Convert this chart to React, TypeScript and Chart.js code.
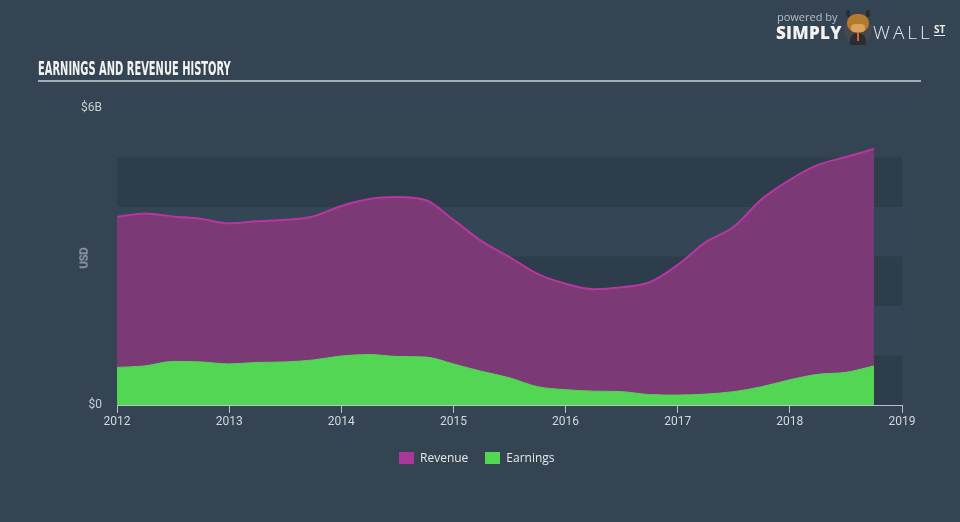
import React, { useEffect, useRef } from "react";
import { Chart, registerables } from "chart.js";
Chart.register(...registerables);

// Quarter positions (fractional years)
const quarters = [
  2012, 2012.25, 2012.5, 2012.75, 2013, 2013.25, 2013.5, 2013.75,
  2014, 2014.25, 2014.5, 2014.75, 2015, 2015.25, 2015.5, 2015.75,
  2016, 2016.25, 2016.5, 2016.75, 2017, 2017.25, 2017.5, 2017.75,
  2018, 2018.25, 2018.5, 2018.75,
];
// USD billions
const revenue = [
  3.8, 3.87, 3.81, 3.76, 3.67, 3.71, 3.74, 3.81,
  4.02, 4.16, 4.2, 4.14, 3.74, 3.31, 2.99, 2.65,
  2.45, 2.34, 2.38, 2.48, 2.83, 3.29, 3.6, 4.16,
  4.55, 4.85, 5.01, 5.17,
];
const earnings = [
  0.76, 0.79, 0.88, 0.87, 0.83, 0.86, 0.87, 0.91,
  0.99, 1.02, 0.98, 0.97, 0.83, 0.68, 0.55, 0.37,
  0.31, 0.28, 0.27, 0.21, 0.2, 0.22, 0.27, 0.37,
  0.51, 0.62, 0.66, 0.79,
];
const xTickYears = [2012, 2013, 2014, 2015, 2016, 2017, 2018, 2019];
const yTickValues = [0, 6];
const bandRanges = [
  [0, 1],
  [2, 3],
  [4, 5],
];
const legendItems = [
  { label: "Revenue", color: "#a8379a" },
  { label: "Earnings", color: "#52d654" },
];

const BG = "#344453";

const bandsPlugin = {
  id: "bands",
  beforeDatasetsDraw(chart: any) {
    const { ctx, chartArea, scales } = chart;
    const y = scales.y;
    ctx.save();
    ctx.fillStyle = "#344555";
    const top = y.getPixelForValue(5);
    ctx.fillRect(chartArea.left, top, chartArea.right - chartArea.left, y.getPixelForValue(0) - top);
    ctx.fillStyle = "#2e3d4b";
    for (const [a, b] of bandRanges) {
      const y1 = y.getPixelForValue(b);
      const y2 = y.getPixelForValue(a);
      ctx.fillRect(chartArea.left, y1, chartArea.right - chartArea.left, y2 - y1);
    }
    ctx.restore();
  },
};

export default function App() {
  const ref = useRef<HTMLCanvasElement | null>(null);

  useEffect(() => {
    if (!ref.current) return;
    const chart = new Chart(ref.current, {
      type: "line",
      data: {
        datasets: [
          {
            label: "Earnings",
            data: quarters.map((q, i) => ({ x: q, y: earnings[i] })),
            borderColor: "#52d654",
            backgroundColor: "#52d654",
            borderWidth: 1,
            fill: "origin",
            pointRadius: 0,
            tension: 0.4,
            cubicInterpolationMode: "monotone",
            order: 0,
          },
          {
            label: "Revenue",
            data: quarters.map((q, i) => ({ x: q, y: revenue[i] })),
            borderColor: "#b8369f",
            backgroundColor: "#7b3a76",
            borderWidth: 2,
            fill: "origin",
            pointRadius: 0,
            tension: 0.4,
            cubicInterpolationMode: "monotone",
            order: 1,
          },
        ],
      },
      options: {
        responsive: false,
        animation: false,
        layout: { padding: { top: 108, right: 58, left: 0, bottom: 0 } },
        plugins: { legend: { display: false }, tooltip: { enabled: false } },
        scales: {
          x: {
            type: "linear",
            min: 2012,
            max: 2019,
            afterBuildTicks: (s: any) => {
              s.ticks = xTickYears.map((v) => ({ value: v }));
            },
            afterFit: (s: any) => {
              s.height = 117;
            },
            ticks: {
              color: "#d4d8dc",
              font: { family: "Roboto", size: 12 },
              padding: 2,
              maxRotation: 0,
              callback: (v: any) => String(v),
            },
            grid: {
              drawOnChartArea: false,
              drawTicks: true,
              tickLength: 8,
              color: "#b9c0c7",
            },
            border: { display: true, color: "#b9c0c7", width: 1 },
          },
          y: {
            min: 0,
            max: 6,
            afterBuildTicks: (s: any) => {
              s.ticks = yTickValues.map((v) => ({ value: v }));
            },
            afterFit: (s: any) => {
              s.width = 117;
            },
            ticks: {
              color: "#c9ced3",
              font: { family: "Roboto", size: 12 },
              padding: 15,
              callback: (v: any) => (v === 0 ? "$0" : "$" + v + "B"),
            },
            grid: { display: false, drawTicks: false },
            border: { display: false },
          },
        },
      },
      plugins: [bandsPlugin],
    } as any);
    return () => chart.destroy();
  }, []);

  return (
    <div
      style={{
        position: "fixed",
        left: 0,
        top: 0,
        width: 960,
        height: 522,
        background: BG,
        overflow: "hidden",
        fontFamily: "Roboto, sans-serif",
      }}
    >
      <canvas ref={ref} width={960} height={522} style={{ position: "absolute", left: 0, top: 0, width: 960, height: 522 }} />
      <div
        style={{
          position: "absolute",
          left: 38,
          top: 58,
          color: "#f2f2f2",
          fontFamily: "'Liberation Sans Narrow', 'DejaVu Sans Condensed', sans-serif",
          fontWeight: "bold",
          fontSize: 19,
          lineHeight: "20px",
          whiteSpace: "nowrap",
          transformOrigin: "left top",
          transform: "scaleX(0.58)",
        }}
      >
        EARNINGS AND REVENUE HISTORY
      </div>
      <div style={{ position: "absolute", left: 38, top: 80, width: 883, height: 2, background: "#a3abb3" }} />
      <div
        style={{
          position: "absolute",
          left: 84,
          top: 258,
          color: "#c9ced3",
          fontSize: 11,
          transform: "translate(-50%, -50%) rotate(-90deg)",
          whiteSpace: "nowrap",
        }}
      >
        USD
      </div>
      {/* Legend */}
      <div style={{ position: "absolute", left: 399, top: 449, display: "flex", alignItems: "center", fontFamily: "'Open Sans', sans-serif", fontSize: 12, color: "#e6e8ea" }}>
        {legendItems.map((it) => (
          <div key={it.label} style={{ display: "flex", alignItems: "center", marginRight: 17 }}>
            <div style={{ width: 15, height: 12, background: it.color, marginRight: 6 }} />
            <span>{it.label}</span>
          </div>
        ))}
      </div>
      {/* Logo */}
      <div style={{ position: "absolute", left: 777, top: 9, color: "#b7bec5", fontFamily: "'Open Sans', sans-serif", fontSize: 11 }}>powered by</div>
      <div style={{ position: "absolute", left: 776, top: 21, color: "#f2f2f2", fontFamily: "'Open Sans', sans-serif", fontWeight: 800, fontSize: 17, letterSpacing: 0.3 }}>SIMPLY</div>
      <div style={{ position: "absolute", left: 844, top: 17, width: 28, height: 28, borderRadius: 14, background: "#44484f" }} />
      <div style={{ position: "absolute", left: 850, top: 33, width: 16, height: 12, borderRadius: "8px 8px 0 0", background: "#2a2d31" }} />
      <div style={{ position: "absolute", left: 857, top: 33, width: 2, height: 8, background: "#e0602a" }} />
      <div style={{ position: "absolute", left: 847, top: 14, width: 22, height: 19, borderRadius: "9px 9px 10px 10px", background: "#b57a2d" }} />
      <div style={{ position: "absolute", left: 851, top: 24, width: 14, height: 8, borderRadius: 5, background: "#d9a35e" }} />
      <div style={{ position: "absolute", left: 846, top: 10, width: 4, height: 7, borderRadius: 2, background: "#2a2d31" }} />
      <div style={{ position: "absolute", left: 866, top: 10, width: 4, height: 7, borderRadius: 2, background: "#2a2d31" }} />
      <div style={{ position: "absolute", left: 873, top: 19, color: "#e8eaec", fontFamily: "'Open Sans', sans-serif", fontWeight: 300, fontSize: 19, letterSpacing: 3 }}>WALL</div>
      <div style={{ position: "absolute", left: 934, top: 24, color: "#e8eaec", fontFamily: "'Open Sans', sans-serif", fontWeight: 700, fontSize: 10, borderBottom: "1.5px solid #e8eaec", lineHeight: "11px" }}>ST</div>
    </div>
  );
}
